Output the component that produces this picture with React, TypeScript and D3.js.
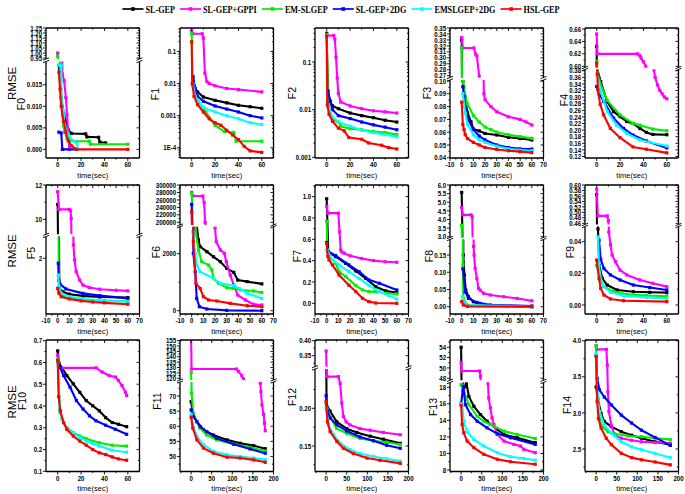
import React from 'react';
import * as d3 from 'd3';

type Pt = [number, number];

const SERIES_NAMES = ['SL-GEP', 'SL-GEP+GPPI', 'EM-SLGEP', 'SL-GEP+2DG', 'EMSLGEP+2DG', 'HSL-GEP'];
const SERIES_COLORS = ['#000000', '#ff00ff', '#00ee00', '#0000ff', '#00ffff', '#ff0000'];

// ---- tick label arrays ----
const X_TICKS_60 = [0, 20, 40, 60];
const X_TICKS_70 = [-10, 0, 10, 20, 30, 40, 50, 60, 70];
const X_TICKS_200 = [0, 50, 100, 150, 200];
const F0_UP_TICKS = [0.95, 1.0, 1.05, 1.1, 1.15, 1.2, 1.25];
const F0_LO_TICKS = [0, 0.005, 0.01, 0.015];
const F1_TICKS = [0.1, 0.01, 0.001, 0.0001];
const F2_TICKS = [0.1, 0.01, 0.001];
const F3_UP_TICKS = [0.27, 0.28, 0.29, 0.3, 0.31, 0.32, 0.33, 0.34, 0.35];
const F3_LO_TICKS = [0.04, 0.05, 0.06, 0.07, 0.08, 0.09, 0.1];
const F4_UP_TICKS = [0.6, 0.62, 0.64, 0.66];
const F4_LO_TICKS = [0.12, 0.14, 0.16, 0.18, 0.2, 0.22, 0.24, 0.26, 0.28, 0.3, 0.32, 0.34, 0.36, 0.38];
const F5_UP_TICKS = [10, 12];
const F5_LO_TICKS = [2];
const F6_UP_TICKS = [200000, 220000, 240000, 260000, 280000, 300000];
const F6_LO_TICKS = [0, 2000];
const F7_TICKS = [0, 0.2, 0.4, 0.6, 0.8, 1.0];
const F8_UP_TICKS = [3.0, 3.5, 4.0, 4.5, 5.0, 5.5, 6.0];
const F8_LO_TICKS = [0, 0.05, 0.1, 0.15];
const F9_UP_TICKS = [0.46, 0.48, 0.5, 0.52, 0.54, 0.56, 0.58, 0.6];
const F9_LO_TICKS = [0, 0.02, 0.04];
const F10_TICKS = [0.1, 0.2, 0.3, 0.4, 0.5, 0.6, 0.7];
const F11_UP_TICKS = [120, 125, 130, 135, 140, 145, 150, 155];
const F11_LO_TICKS = [45, 50, 55, 60, 65, 70];
const F12_UP_TICKS = [0.35, 0.4];
const F12_LO_TICKS = [0.15, 0.2];
const F13_UP_TICKS = [48, 50, 52, 54];
const F13_LO_TICKS = [8, 10, 12, 14, 16, 18];
const F14_TICKS = [2.5, 3.0, 3.5, 4.0];

// ---- series data: [black, magenta, green, blue, cyan, red] ----
const F0_DATA: Pt[][] = [
  [[1, 0.0195], [3, 0.012], [5, 0.0085], [7, 0.0065], [9, 0.0045], [12, 0.0037], [24, 0.0036], [25, 0.0029], [35, 0.0028], [36, 0.0017], [41, 0.0015]],
  [[0, 1.0], [4, 0.0175], [5.5, 0.016], [7, 0.012], [8, 0.008], [9, 0.004], [10, 0.0]],
  [[0, 0.97], [2, 0.0195], [3, 0.012], [4, 0.008], [5, 0.0055], [6, 0.004], [8, 0.0025], [10, 0.0019], [27, 0.0019], [28, 0.0012], [60, 0.0012]],
  [[1, 0.004], [3, 0.0038], [4, 0.0], [17, 0.0]],
  [[1, 0.0195], [3, 0.0195], [3.5, 0.0105], [5, 0.009], [6, 0.0055], [8, 0.004], [10, 0.003], [13, 0.002], [16.5, 0.0013], [17, 0.0]],
  [[1, 0.0179], [2, 0.014], [3, 0.01], [5, 0.0065], [7, 0.004], [9, 0.002], [12, 0.0008], [16, 0.0], [60, 0.0]],
];
const F1_DATA: Pt[][] = [
  [[1, 0.0166], [3, 0.007], [5, 0.0055], [10, 0.0038], [20, 0.003], [30, 0.0025], [40, 0.0021], [50, 0.0019], [60, 0.0017]],
  [[0, 0.44], [1, 0.355], [9, 0.355], [10, 0.26], [11.3, 0.021], [13, 0.0115], [15, 0.01], [20, 0.0085], [30, 0.007], [40, 0.0065], [60, 0.0055]],
  [[0, 0.355], [0.6, 0.009], [6, 0.0027], [12, 0.0013], [20, 0.0005], [28, 0.00032], [36, 0.0003], [38, 0.00016], [60, 0.00016]],
  [[1, 0.015], [3, 0.0065], [5, 0.004], [10, 0.0028], [20, 0.002], [30, 0.0016], [40, 0.0013], [50, 0.001], [60, 0.00085]],
  [[1, 0.01], [3, 0.004], [5, 0.003], [10, 0.0018], [20, 0.0013], [30, 0.001], [40, 0.0008], [50, 0.0006], [60, 0.00053]],
  [[0, 0.2], [0.5, 0.01], [2, 0.004], [5, 0.0022], [10, 0.0013], [15, 0.0008], [20, 0.0006], [25, 0.0005], [30, 0.00035], [35, 0.00025], [40, 0.00018], [45, 0.00011], [50, 0.00008], [60, 0.000072]],
];
const F2_DATA: Pt[][] = [
  [[0, 0.4], [1, 0.024], [3, 0.015], [5, 0.012], [10, 0.0105], [20, 0.0085], [30, 0.0075], [40, 0.0068], [50, 0.006], [60, 0.0055]],
  [[0, 0.36], [6, 0.36], [7, 0.3], [8, 0.125], [9, 0.046], [10, 0.022], [12, 0.0145], [20, 0.012], [30, 0.0105], [40, 0.0095], [50, 0.009], [60, 0.0085]],
  [[0, 0.38], [1, 0.015], [3, 0.009], [5, 0.006], [10, 0.0055], [12, 0.0045], [20, 0.004], [30, 0.0038], [40, 0.0035], [50, 0.0033], [60, 0.003]],
  [[1, 0.025], [3, 0.015], [5, 0.01], [10, 0.0075], [20, 0.0065], [30, 0.0055], [40, 0.0048], [50, 0.0043], [60, 0.0038]],
  [[1, 0.012], [3, 0.009], [5, 0.007], [10, 0.0055], [20, 0.0045], [30, 0.0037], [40, 0.0033], [50, 0.003], [60, 0.0027]],
  [[0, 0.35], [0.5, 0.0127], [2, 0.008], [5, 0.0057], [10, 0.0041], [15, 0.0036], [19, 0.0026], [30, 0.0024], [36, 0.002], [47, 0.0018], [53, 0.0016], [60, 0.0015]],
];
const F3_DATA: Pt[][] = [
  [[0, 0.33], [1, 0.1], [3, 0.085], [5, 0.075], [8, 0.068], [10, 0.0625], [15, 0.061], [20, 0.059], [30, 0.0578], [40, 0.056], [50, 0.055], [60, 0.0539]],
  [[0, 0.334], [1, 0.3165], [10.5, 0.3165], [12, 0.306], [13, 0.303], [15, 0.269], [19, 0.09], [20, 0.0853], [25, 0.08], [30, 0.076], [40, 0.072], [50, 0.07], [55, 0.068], [60, 0.0656]],
  [[0, 0.3165], [1, 0.1], [2, 0.095], [3, 0.088], [5, 0.082], [10, 0.073], [15, 0.068], [20, 0.064], [25, 0.062], [30, 0.06], [40, 0.058], [50, 0.0565], [60, 0.0552]],
  [[1, 0.0956], [2, 0.088], [3, 0.08], [5, 0.071], [10, 0.062], [15, 0.057], [20, 0.054], [30, 0.05], [40, 0.048], [50, 0.047], [60, 0.0468]],
  [[1, 0.09], [3, 0.075], [5, 0.066], [10, 0.058], [15, 0.054], [20, 0.052], [30, 0.049], [40, 0.047], [50, 0.046], [60, 0.0455]],
  [[0, 0.0835], [1, 0.066], [2, 0.062], [3, 0.058], [5, 0.055], [10, 0.052], [15, 0.05], [20, 0.048], [30, 0.0465], [40, 0.0455], [50, 0.0448], [60, 0.044]],
];
const F4_DATA: Pt[][] = [
  [[0, 0.632], [0.5, 0.385], [3.4, 0.347], [9, 0.286], [14.5, 0.256], [20, 0.241], [25.7, 0.226], [31, 0.22], [37, 0.205], [42.5, 0.193], [48, 0.187], [60, 0.186]],
  [[0, 0.652], [0.5, 0.62], [35, 0.62], [37, 0.617], [38, 0.613], [40, 0.607], [42, 0.6], [49, 0.383], [50, 0.36], [52, 0.337], [54, 0.32], [56, 0.31], [58, 0.3], [60, 0.295]],
  [[0, 0.608], [0.5, 0.39], [2, 0.35], [9, 0.29], [20, 0.246], [31, 0.22], [37, 0.215], [48, 0.203], [60, 0.198]],
  [[0, 0.332], [2, 0.31], [6, 0.287], [14.5, 0.236], [23, 0.205], [31, 0.185], [42.5, 0.167], [60, 0.146]],
  [[0.5, 0.37], [3.4, 0.317], [9, 0.256], [17, 0.215], [25.7, 0.19], [37, 0.17], [60, 0.152]],
  [[0, 0.605], [0.5, 0.37], [1, 0.322], [3, 0.278], [6, 0.246], [11.7, 0.205], [20, 0.177], [31, 0.149], [42.5, 0.142], [60, 0.131]],
];
const F5_DATA: Pt[][] = [
  [[0, 10.87], [1.4, 0.92], [4.3, 0.8], [10, 0.71], [21.6, 0.65], [36, 0.61], [60, 0.59]],
  [[0, 11.61], [1, 10.58], [10, 10.58], [11, 10.5], [11.5, 10.06], [13.5, 2.48], [14.4, 1.94], [15.8, 1.52], [18.7, 1.22], [21.6, 1.04], [27, 0.95], [36, 0.89], [50, 0.85], [60, 0.83]],
  [[0, 9.0], [1, 0.9], [2, 0.72], [5, 0.62], [10, 0.57], [20, 0.52], [40, 0.48], [60, 0.46]],
  [[0.5, 1.82], [1, 1.2], [2, 1.07], [7, 0.9], [21.6, 0.74], [36, 0.66], [60, 0.56]],
  [[0.5, 1.4], [1, 1.0], [3, 0.75], [10, 0.62], [24.5, 0.54], [36, 0.49], [60, 0.44]],
  [[0, 0.92], [1, 0.75], [3, 0.62], [10, 0.54], [20, 0.47], [30, 0.43], [40, 0.4], [60, 0.35]],
];
const F6_DATA: Pt[][] = [
  [[4.3, 3000], [5.8, 2480], [7.2, 2245], [13, 2070], [18.7, 1890], [24.5, 1720], [30, 1485], [36, 1345], [39.4, 1075], [47.5, 1020], [60, 940]],
  [[0, 280400], [1, 270500], [9.5, 270500], [10.6, 252700], [11.5, 200000], [20, 2900], [21, 2420], [24.5, 2130], [28, 2010], [29.6, 1720], [33, 1250], [36, 900], [39.4, 550], [46, 375], [53, 222], [60, 200]],
  [[0, 278000], [3, 2890], [5.8, 2130], [8.6, 1720], [14.4, 1600], [17.3, 1430], [18.7, 1130], [23, 960], [30, 810], [36, 780], [41.7, 725], [53, 690], [60, 640]],
  [[0, 248000], [1.4, 2010], [3, 1370], [4.3, 430], [6.6, 140], [13, 60], [30, 12], [60, 0]],
  [[1, 2770], [3, 2010], [4.3, 1600], [7.2, 1370], [18.7, 1130], [24.5, 960], [36, 880], [41.7, 760], [47.5, 610], [60, 430]],
  [[0, 228000], [1.4, 2420], [3.7, 960], [7.2, 780], [10, 490], [14.4, 375], [21.6, 340], [33, 257], [47.5, 175], [60, 140]],
];
const F7_DATA: Pt[][] = [
  [[0, 0.98], [1.4, 0.478], [7.7, 0.4375], [16.3, 0.375], [24.9, 0.303], [33.4, 0.234], [42, 0.156], [50.6, 0.116], [60, 0.1]],
  [[0, 0.91], [1, 0.845], [10, 0.845], [11, 0.67], [12, 0.5], [13, 0.48], [15, 0.47], [20, 0.445], [30, 0.42], [40, 0.4], [50, 0.39], [60, 0.385]],
  [[0, 0.77], [0.5, 0.5], [2, 0.44], [7.7, 0.375], [10.6, 0.297], [16.3, 0.25], [24.9, 0.166], [30.6, 0.125], [36, 0.11], [42, 0.11], [50.6, 0.094], [60, 0.0875]],
  [[0, 0.57], [1, 0.49], [7.7, 0.447], [19, 0.36], [27.7, 0.297], [36, 0.22], [45, 0.1875], [60, 0.125]],
  [[0.5, 0.5], [4.9, 0.406], [10.6, 0.36], [19, 0.297], [27.7, 0.234], [36, 0.17], [45, 0.11], [53, 0.072], [60, 0.04]],
  [[0, 0.56], [1, 0.44], [2, 0.406], [4.9, 0.36], [10.6, 0.266], [19, 0.17], [24.9, 0.11], [30.6, 0.047], [36, 0.016], [42, 0.003], [60, 0.0]],
];
const F8_DATA: Pt[][] = [
  [[0, 5.57], [1.4, 0.15], [2.3, 0.092], [3.5, 0.048], [5.8, 0.029], [10, 0.0145], [15.8, 0.007], [24.5, 0.003], [60, 0.0]],
  [[0, 4.69], [1, 4.27], [8, 4.27], [9, 4.15], [10.2, 0.175], [10.6, 0.15], [11.5, 0.111], [13, 0.082], [14.4, 0.053], [15.8, 0.048], [18.7, 0.039], [24.5, 0.034], [36, 0.029], [47.5, 0.024], [60, 0.017]],
  [[0, 3.65], [1, 0.121], [1.4, 0.024], [4.3, 0.005], [60, 0.001]],
  [[1, 0.11], [3, 0.043], [5.8, 0.024], [13, 0.0125], [24.5, 0.005], [60, 0.002]],
  [[0.6, 0.029], [3, 0.005], [60, 0.0]],
  [[0, 0.015], [1.4, 0.005], [5, 0.001], [60, 0.0]],
];
const F9_DATA: Pt[][] = [
  [[0, 0.565], [1.1, 0.048], [2.2, 0.025], [4.8, 0.0168], [9, 0.0126], [17.4, 0.0095], [31.4, 0.0084], [45.4, 0.008], [60, 0.0078]],
  [[0, 0.585], [1, 0.487], [9, 0.487], [10, 0.47], [10.4, 0.046], [11.8, 0.038], [13.2, 0.0316], [16, 0.0274], [20, 0.022], [25.8, 0.019], [37, 0.0158], [48, 0.0137], [60, 0.0116]],
  [[0, 0.025], [2.8, 0.0158], [6.2, 0.0116], [14.6, 0.0084], [25.8, 0.0067], [42.6, 0.0059], [60, 0.0055]],
  [[2, 0.041], [3.4, 0.029], [6.2, 0.023], [11.8, 0.019], [20, 0.0158], [31.4, 0.0126], [45.4, 0.011], [60, 0.0095]],
  [[1.1, 0.043], [2, 0.025], [3.4, 0.0168], [6.2, 0.0116], [11.8, 0.008], [23, 0.0059], [42.6, 0.0048], [60, 0.0042]],
  [[0, 0.0284], [2, 0.0168], [3.4, 0.0105], [6.2, 0.0063], [11.8, 0.0038], [23, 0.0027], [60, 0.0021]],
];
const F10_DATA: Pt[][] = [
  [[0, 0.653], [1, 0.598], [7.8, 0.54], [13.3, 0.502], [18.9, 0.463], [24.4, 0.425], [30, 0.401], [35.6, 0.378], [41, 0.347], [46.7, 0.324], [52, 0.316], [59, 0.305]],
  [[0, 0.633], [1, 0.575], [33, 0.575], [38, 0.556], [44, 0.54], [49.4, 0.533], [52, 0.517], [55, 0.494], [58, 0.463], [59, 0.448]],
  [[0, 0.613], [0.8, 0.502], [2.2, 0.37], [5, 0.324], [7.8, 0.3], [13.3, 0.278], [18.9, 0.262], [24.4, 0.25], [35.6, 0.231], [46.7, 0.22], [59, 0.216]],
  [[0, 0.6], [1.7, 0.58], [5, 0.54], [10.6, 0.486], [16, 0.425], [21.7, 0.386], [27.2, 0.355], [32.8, 0.332], [41, 0.312], [49.4, 0.293], [59, 0.27]],
  [[0, 0.6], [1.7, 0.386], [3.6, 0.34], [7.8, 0.3], [13.3, 0.275], [18.9, 0.255], [24.4, 0.239], [30, 0.228], [35.6, 0.216], [46.7, 0.197], [59, 0.188]],
  [[0, 0.61], [0.8, 0.443], [2.2, 0.378], [5, 0.324], [7.8, 0.293], [13.3, 0.262], [18.9, 0.239], [24.4, 0.22], [30, 0.2], [35.6, 0.185], [41, 0.177], [46.7, 0.166], [52, 0.157], [59, 0.151]],
];
const F11_DATA: Pt[][] = [
  [[0, 68.1], [4, 64.3], [14, 61.5], [30, 58.8], [54, 57.1], [87, 55.5], [119, 54.4], [152, 53.6], [180, 52.6]],
  [[0, 160], [1, 128.6], [110, 128.6], [115, 126.4], [123, 122.4], [127, 119.3], [168, 74.2], [169.5, 71.4], [172, 67], [176, 63.9], [178, 61], [180, 58.5]],
  [[0, 125.3], [1, 70.9], [5.7, 63.7], [22, 59.3], [38, 57.1], [62, 55.5], [103, 54.2], [143, 53], [180, 51.8]],
  [[0, 65.4], [5.7, 63.2], [22, 59.9], [38, 58.2], [62, 56], [103, 54.1], [143, 52.5], [180, 51.1]],
  [[0, 64], [4, 60.5], [14, 56.6], [30, 53.9], [54, 51.7], [87, 50.6], [119, 50], [152, 49.5], [180, 48.9]],
  [[0, 63], [4, 59.4], [14, 55.5], [30, 52.8], [54, 51.1], [87, 49.8], [119, 49.5], [152, 48.9], [180, 48.1]],
];
const F12_DATA: Pt[][] = [
  [[0, 0.3], [1, 0.205], [9.7, 0.196], [26, 0.182], [50, 0.173], [74.5, 0.168], [107, 0.163], [139, 0.159], [180, 0.1535]],
  [[0, 0.3656], [2, 0.242], [30, 0.242], [34, 0.233], [38, 0.207], [42, 0.189], [48.6, 0.182], [58, 0.178], [82.6, 0.173], [107, 0.171], [139, 0.168], [180, 0.165]],
  [[0, 0.207], [9.7, 0.189], [26, 0.173], [50, 0.167], [82.6, 0.16], [115, 0.157], [147, 0.155], [180, 0.152]],
  [[0, 0.2168], [3.2, 0.196], [9.7, 0.187], [26, 0.178], [50, 0.17], [82.6, 0.162], [115, 0.157], [147, 0.151], [180, 0.147]],
  [[0, 0.2], [5.7, 0.178], [17.8, 0.165], [34, 0.154], [58, 0.145], [82.6, 0.14], [115, 0.136], [147, 0.133], [180, 0.13]],
  [[0, 0.209], [3.2, 0.182], [9.7, 0.169], [26, 0.156], [42, 0.147], [66, 0.14], [99, 0.134], [131, 0.131], [180, 0.127]],
];
const F13_DATA: Pt[][] = [
  [[0, 54], [1, 47], [5, 17.6], [10, 18.1], [13, 18.5], [18.7, 16.9], [31, 15.7], [47, 14.7], [63, 13.9], [87.6, 12.9], [104, 12.3], [136, 11.9], [180, 11.3]],
  [[0, 51], [1, 49.4], [45, 49.4], [47, 48.4], [65, 18.5], [67, 16.7], [71, 15.5], [75, 14.3], [79.5, 13.5], [87.6, 12.3], [104, 11.5], [128, 11.1], [144, 10.9], [152, 10.5], [180, 10.1]],
  [[0, 18.3], [2.4, 18.3], [6.5, 17.5], [18.7, 15.9], [39, 14.5], [55, 13.9], [71, 13.5], [104, 12.7], [136, 12.3], [180, 11.8]],
  [[0, 16], [5, 18.1], [10.5, 15.9], [23, 14.7], [39, 13.9], [63, 13.1], [87.6, 12.4], [120, 11.9], [180, 11.1]],
  [[0, 16], [2.4, 15.9], [6.5, 13.9], [14.6, 12.6], [31, 11.7], [55, 10.9], [87.6, 10.1], [120, 9.6], [152, 9.4], [180, 9.2]],
  [[0, 15.8], [2.4, 13.5], [6.5, 12.5], [14.6, 11.5], [31, 10.7], [55, 9.9], [87.6, 9.3], [120, 9.0], [180, 8.7]],
];
const F14_DATA: Pt[][] = [
  [[0, 3.36], [4, 3.2], [12, 2.99], [20, 2.88], [37, 2.81], [61, 2.74], [86, 2.69], [110, 2.65], [143, 2.6], [180, 2.56]],
  [[0, 3.93], [1, 3.88], [25, 3.88], [27, 3.66], [28.6, 3.29], [31, 3.02], [36.7, 2.83], [45, 2.69], [61, 2.65], [86, 2.62], [110, 2.6], [143, 2.59], [180, 2.58]],
  [[0, 3.93], [2.4, 3.39], [5.7, 3.02], [12, 2.83], [28.6, 2.74], [45, 2.71], [77.5, 2.68], [110, 2.67], [143, 2.65], [180, 2.63]],
  [[0, 3.8], [2.4, 3.48], [8, 3.32], [20, 3.22], [37, 3.11], [61, 2.97], [86, 2.86], [110, 2.76], [143, 2.66], [180, 2.55]],
  [[0, 3.82], [2.4, 3.29], [8, 3.02], [20, 2.83], [37, 2.72], [61, 2.6], [86, 2.53], [110, 2.49], [143, 2.44], [180, 2.38]],
  [[0, 3.78], [2.4, 3.16], [5.7, 2.92], [12, 2.79], [24.5, 2.65], [37, 2.56], [61, 2.44], [86, 2.38], [110, 2.35], [143, 2.32], [180, 2.28]],
];

// ---- layout ----
const COL_X = [46, 180, 315, 450, 585];
const ROW_Y = [28, 185, 340];
const ROW_H = [130, 129, 131.5];
const PANEL_W = 93.5;
const TICK_FONT = "bold 7.5px 'Liberation Sans', Arial, sans-serif";
const TITLE_FONT = "10.5px 'Liberation Sans', Arial, sans-serif";
const SQUEEZE = 0.82;
const LABEL_GAP = 3.8;

type Seg = { y0: number; y1: number; d0: number; d1: number; log?: boolean; ticks: number[]; fmt: (v: number) => string };
type PanelCfg = {
  title: string; col: number; row: number; xDomain: [number, number]; xTicks: number[];
  segs: Seg[]; data: Pt[][]; titleDx: number; titleY: number;
};

const f = (n: number) => (v: number) => v.toFixed(n);
const fi = (v: number) => String(v);
const fLog = (v: number) => (v >= 0.001 ? String(v) : '1E' + Math.round(Math.log10(v)));

const PANELS: PanelCfg[] = [
  { title: 'F0', col: 0, row: 0, xDomain: [-10, 70], xTicks: X_TICKS_60, titleDx: 23.5, titleY: 76, data: F0_DATA,
    segs: [{ y0: 0, y1: 31, d0: 0.94, d1: 1.25, ticks: F0_UP_TICKS, fmt: f(2) }, { y0: 33.5, y1: 130, d0: -0.002, d1: 0.0204, ticks: F0_LO_TICKS, fmt: f(3) }] },
  { title: 'F1', col: 1, row: 0, xDomain: [-10, 70], xTicks: X_TICKS_60, titleDx: 25, titleY: 66, data: F1_DATA,
    segs: [{ y0: 0, y1: 130, d0: 4.8e-5, d1: 0.537, log: true, ticks: F1_TICKS, fmt: fLog }] },
  { title: 'F2', col: 2, row: 0, xDomain: [-10, 70], xTicks: X_TICKS_60, titleDx: 23, titleY: 65, data: F2_DATA,
    segs: [{ y0: 0, y1: 130, d0: 0.00097, d1: 0.516, log: true, ticks: F2_TICKS, fmt: fLog }] },
  { title: 'F3', col: 3, row: 0, xDomain: [-10, 70], xTicks: X_TICKS_70, titleDx: 23, titleY: 65, data: F3_DATA,
    segs: [{ y0: 0, y1: 49.5, d0: 0.267, d1: 0.35, ticks: F3_UP_TICKS, fmt: f(2) }, { y0: 52, y1: 130, d0: 0.0398, d1: 0.1008, ticks: F3_LO_TICKS, fmt: f(2) }] },
  { title: 'F4', col: 4, row: 0, xDomain: [-10, 70], xTicks: X_TICKS_60, titleDx: 16, titleY: 72, data: F4_DATA,
    segs: [{ y0: 0, y1: 39.5, d0: 0.598, d1: 0.6616, ticks: F4_UP_TICKS, fmt: f(2) }, { y0: 41.5, y1: 130, d0: 0.1154, d1: 0.3837, ticks: F4_LO_TICKS, fmt: f(2) }] },

  { title: 'F5', col: 0, row: 1, xDomain: [-10, 70], xTicks: X_TICKS_70, titleDx: 15, titleY: 68, data: F5_DATA,
    segs: [{ y0: 0, y1: 49.3, d0: 9.13, d1: 12, ticks: F5_UP_TICKS, fmt: fi }, { y0: 51.5, y1: 129, d0: 0, d1: 2.78, ticks: F5_LO_TICKS, fmt: fi }] },
  { title: 'F6', col: 1, row: 1, xDomain: [-10, 70], xTicks: X_TICKS_70, titleDx: 24, titleY: 67, data: F6_DATA,
    segs: [{ y0: 0, y1: 40, d0: 192760, d1: 300000, ticks: F6_UP_TICKS, fmt: fi }, { y0: 41.7, y1: 129, d0: -116, d1: 2947, ticks: F6_LO_TICKS, fmt: fi }] },
  { title: 'F7', col: 2, row: 1, xDomain: [-10, 70], xTicks: X_TICKS_70, titleDx: 14, titleY: 71, data: F7_DATA,
    segs: [{ y0: 0, y1: 129, d0: -0.1, d1: 1.109, ticks: F7_TICKS, fmt: f(1) }] },
  { title: 'F8', col: 3, row: 1, xDomain: [-10, 70], xTicks: X_TICKS_70, titleDx: 15, titleY: 71, data: F8_DATA,
    segs: [{ y0: 0, y1: 52.5, d0: 2.956, d1: 6.0, ticks: F8_UP_TICKS, fmt: f(1) }, { y0: 54.5, y1: 129, d0: -0.0212, d1: 0.195, ticks: F8_LO_TICKS, fmt: f(2) }] },
  { title: 'F9', col: 4, row: 1, xDomain: [-10, 70], xTicks: X_TICKS_60, titleDx: 15, titleY: 67, data: F9_DATA,
    segs: [{ y0: 0, y1: 39.5, d0: 0.4556, d1: 0.6, ticks: F9_UP_TICKS, fmt: f(2) }, { y0: 41.5, y1: 129, d0: -0.0057, d1: 0.0496, ticks: F9_LO_TICKS, fmt: f(2) }] },

  { title: 'F10', col: 0, row: 2, xDomain: [-10, 70], xTicks: X_TICKS_60, titleDx: 23.5, titleY: 61, data: F10_DATA,
    segs: [{ y0: 0, y1: 131.5, d0: 0.0993, d1: 0.703, ticks: F10_TICKS, fmt: f(1) }] },
  { title: 'F11', col: 1, row: 2, xDomain: [-27, 200], xTicks: X_TICKS_200, titleDx: 23, titleY: 61, data: F11_DATA,
    segs: [{ y0: 0, y1: 40, d0: 118.4, d1: 155.6, ticks: F11_UP_TICKS, fmt: fi }, { y0: 42, y1: 131.5, d0: 45.07, d1: 74.6, ticks: F11_LO_TICKS, fmt: fi }] },
  { title: 'F12', col: 2, row: 2, xDomain: [-27, 200], xTicks: X_TICKS_200, titleDx: 23, titleY: 57, data: F12_DATA,
    segs: [{ y0: 0, y1: 26.7, d0: 0.3133, d1: 0.4023, ticks: F12_UP_TICKS, fmt: f(2) }, { y0: 29, y1: 131.5, d0: 0.1162, d1: 0.2521, ticks: F12_LO_TICKS, fmt: f(2) }] },
  { title: 'F13', col: 3, row: 2, xDomain: [-27, 200], xTicks: X_TICKS_200, titleDx: 17, titleY: 67, data: F13_DATA,
    segs: [{ y0: 0, y1: 40.3, d0: 47.6, d1: 55.4, ticks: F13_UP_TICKS, fmt: fi }, { y0: 42.5, y1: 131.5, d0: 7.82, d1: 18.58, ticks: F13_LO_TICKS, fmt: fi }] },
  { title: 'F14', col: 4, row: 2, xDomain: [-27, 200], xTicks: X_TICKS_200, titleDx: 15, titleY: 65, data: F14_DATA,
    segs: [{ y0: 0, y1: 131.5, d0: 2.188, d1: 4.01, ticks: F14_TICKS, fmt: f(1) }] },
];

const RMSE_Y = [55.5, 66, 62];

let measureCtx: CanvasRenderingContext2D | null = null;
function textWidth(t: string, font: string): number {
  if (!measureCtx) measureCtx = document.createElement('canvas').getContext('2d');
  if (!measureCtx) return t.length * 6;
  measureCtx.font = font;
  return measureCtx.measureText(t).width;
}

function minorTicks(s: Seg): number[] {
  const lo = Math.min(s.d0, s.d1), hi = Math.max(s.d0, s.d1);
  const out: number[] = [];
  if (s.log) {
    for (let k = Math.floor(Math.log10(lo)); k <= Math.ceil(Math.log10(hi)); k++) {
      for (let m = 2; m <= 9; m++) {
        const v = m * Math.pow(10, k);
        if (v > lo && v < hi) out.push(v);
      }
    }
    return out;
  }
  const t = [...s.ticks].sort((a, b) => a - b);
  if (t.length < 2) return out;
  const step = t[1] - t[0];
  for (let v = t[0] - step / 2; v < hi + step; v += step) {
    if (v > lo && v < hi) out.push(v);
  }
  return out;
}

function SqText({ x, y, anchor, children }: { x: number; y: number; anchor: string; children: React.ReactNode }) {
  return (
    <g transform={`translate(${x},${y}) scale(${SQUEEZE},1)`}>
      <text x={0} y={0} dy="0.35em" textAnchor={anchor} style={{ font: TICK_FONT }} fill="#000">{children}</text>
    </g>
  );
}

function Panel({ cfg }: { cfg: PanelCfg }) {
  const L = COL_X[cfg.col], T = ROW_Y[cfg.row], H = ROW_H[cfg.row], W = PANEL_W;
  const x = d3.scaleLinear().domain(cfg.xDomain).range([0, W]);
  const n = cfg.segs.length;
  const segs = cfg.segs.map((s, i) => ({ ...s, y0: i === 0 ? 0 : s.y0, y1: i === n - 1 ? H : s.y1 }));
  const scales = segs.map((s) =>
    (s.log ? d3.scaleLog() : d3.scaleLinear()).domain([s.d0, s.d1]).range([s.y1, s.y0])
  );
  const xStep = cfg.xTicks[1] - cfg.xTicks[0];
  const xMinor: number[] = [];
  for (let v = cfg.xTicks[0] - xStep / 2; v <= cfg.xDomain[1]; v += xStep) {
    if (v > cfg.xDomain[0] && v < cfg.xDomain[1]) xMinor.push(v);
  }
  // keep the rotated title clear of the tick labels beside it
  const halfLen = textWidth(cfg.title, TITLE_FONT) / 2 + 4;
  let nearW = 0;
  segs.forEach((s, i) => {
    const lo = Math.min(s.d0, s.d1), hi = Math.max(s.d0, s.d1);
    s.ticks.filter((v) => v >= lo - 1e-12 && v <= hi + 1e-12).forEach((v) => {
      const yy = scales[i](v);
      if (Math.abs(yy - cfg.titleY) < halfLen) nearW = Math.max(nearW, textWidth(s.fmt(v), TICK_FONT) * SQUEEZE);
    });
  });
  const titleDx = Math.max(cfg.titleDx, nearW + LABEL_GAP + 5);
  const id = 'p' + cfg.title;
  return (
    <g transform={`translate(${L},${T})`}>
      <defs>
        {segs.map((s, i) => (
          <clipPath id={`${id}c${i}`} key={i}>
            <rect x={0} y={s.y0} width={W} height={s.y1 - s.y0} />
          </clipPath>
        ))}
      </defs>
      {segs.map((s, i) => {
        const ys = scales[i];
        const lo = Math.min(s.d0, s.d1), hi = Math.max(s.d0, s.d1);
        const line = d3.line<Pt>().x((d) => x(d[0])).y((d) => ys(d[1]));
        return (
          <g key={i} clipPath={`url(#${id}c${i})`}>
            {cfg.data.map((ser, k) => (
              <g key={k}>
                <path d={line(ser) || ''} fill="none" stroke={SERIES_COLORS[k]} strokeWidth={2.1} strokeLinejoin="round" />
                {ser.filter((d) => d[1] >= lo && d[1] <= hi).map((d, j) => (
                  <rect key={j} x={x(d[0]) - 1.6} y={ys(d[1]) - 1.6} width={3.2} height={3.2} fill={SERIES_COLORS[k]} />
                ))}
              </g>
            ))}
          </g>
        );
      })}
      {/* frame */}
      <g stroke="#000" strokeWidth={1.3} fill="none">
        <line x1={0} x2={W} y1={0} y2={0} />
        <line x1={0} x2={W} y1={H} y2={H} />
        {segs.map((s, i) => (
          <g key={i}>
            <line x1={0} x2={0} y1={s.y0} y2={s.y1} />
            <line x1={W} x2={W} y1={s.y0} y2={s.y1} />
          </g>
        ))}
        {segs.slice(0, -1).map((s, i) => {
          const g0 = s.y1, g1 = segs[i + 1].y0;
          return (
            <g key={'b' + i} strokeWidth={0.9}>
              {[0, W].map((bx) => (
                <g key={bx}>
                  <line x1={bx - 3} x2={bx + 3} y1={g0 + 1.2} y2={g0 - 1.2} />
                  <line x1={bx - 3} x2={bx + 3} y1={g1 + 1.2} y2={g1 - 1.2} />
                </g>
              ))}
            </g>
          );
        })}
      </g>
      {/* y ticks */}
      {segs.map((s, i) => {
        const ys = scales[i];
        const lo = Math.min(s.d0, s.d1), hi = Math.max(s.d0, s.d1);
        const maj = s.ticks.filter((v) => v >= lo - 1e-12 && v <= hi + 1e-12);
        const mnr = minorTicks(s);
        return (
          <g key={'yt' + i}>
            <g stroke="#000" strokeWidth={0.9}>
              {maj.map((v) => (
                <g key={v}>
                  <line x1={-3} x2={0} y1={ys(v)} y2={ys(v)} />
                  <line x1={W} x2={W - 3} y1={ys(v)} y2={ys(v)} />
                </g>
              ))}
              {mnr.map((v) => (
                <g key={'m' + v}>
                  <line x1={-1.6} x2={0} y1={ys(v)} y2={ys(v)} />
                  <line x1={W} x2={W - 1.6} y1={ys(v)} y2={ys(v)} />
                </g>
              ))}
            </g>
            {maj.map((v) => (
              <SqText key={'l' + v} x={-LABEL_GAP} y={ys(v)} anchor="end">{s.fmt(v)}</SqText>
            ))}
          </g>
        );
      })}
      {/* x ticks */}
      <g stroke="#000" strokeWidth={0.9}>
        {cfg.xTicks.map((v) => (
          <g key={v}>
            <line x1={x(v)} x2={x(v)} y1={H} y2={H + 3} />
            <line x1={x(v)} x2={x(v)} y1={0} y2={3} />
          </g>
        ))}
        {xMinor.map((v) => (
          <g key={'m' + v}>
            <line x1={x(v)} x2={x(v)} y1={H} y2={H + 1.6} />
            <line x1={x(v)} x2={x(v)} y1={0} y2={1.6} />
          </g>
        ))}
      </g>
      {cfg.xTicks.map((v) => (
        <SqText key={'xl' + v} x={x(v)} y={H + 6.5} anchor="middle">{v}</SqText>
      ))}
      <text x={W / 2} y={H + 19.5} textAnchor="middle" style={{ font: "7.5px 'Liberation Sans', Arial, sans-serif" }} fill="#000">
        time(sec)
      </text>
      <text transform={`translate(${-titleDx},${cfg.titleY}) rotate(-90)`} textAnchor="middle" dy="0.35em"
        style={{ font: TITLE_FONT }} fill="#000">
        {cfg.title}
      </text>
      {cfg.col === 0 && (
        <text transform={`translate(${12 - L},${RMSE_Y[cfg.row]}) rotate(-90)`} textAnchor="middle" dy="0.35em"
          style={{ font: "11.5px 'Liberation Sans', Arial, sans-serif" }} fill="#000">
          RMSE
        </text>
      )}
    </g>
  );
}

function Legend() {
  const font = "bold 10px 'Liberation Serif', 'Times New Roman', serif";
  const sq = 0.82;
  const lineLen = 21, gap1 = 2, gap2 = 5;
  const widths = SERIES_NAMES.map((s) => textWidth(s, font) * sq);
  const total = widths.reduce((a, w) => a + lineLen + gap1 + w + gap2, 0) - gap2;
  let cx = 341 - total / 2;
  const y = 9;
  const items = SERIES_NAMES.map((name, i) => {
    const x0 = cx;
    cx += lineLen + gap1 + widths[i] + gap2;
    return (
      <g key={name}>
        <line x1={x0} x2={x0 + lineLen} y1={y} y2={y} stroke={SERIES_COLORS[i]} strokeWidth={1.7} />
        <rect x={x0 + lineLen / 2 - 1.8} y={y - 1.8} width={3.6} height={3.6} fill={SERIES_COLORS[i]} />
        <g transform={`translate(${x0 + lineLen + gap1},${y}) scale(${sq},1)`}>
          <text x={0} y={0} dy="0.35em" style={{ font }} fill="#000">{name}</text>
        </g>
      </g>
    );
  });
  return <g>{items}</g>;
}

export default function App() {
  return (
    <svg width={685} height={494} style={{ display: 'block', position: 'absolute', left: 0, top: 0, background: '#fff' }}>
      <rect width={685} height={494} fill="#fff" />
      <Legend />
      {PANELS.map((p) => (
        <Panel key={p.title} cfg={p} />
      ))}
    </svg>
  );
}
